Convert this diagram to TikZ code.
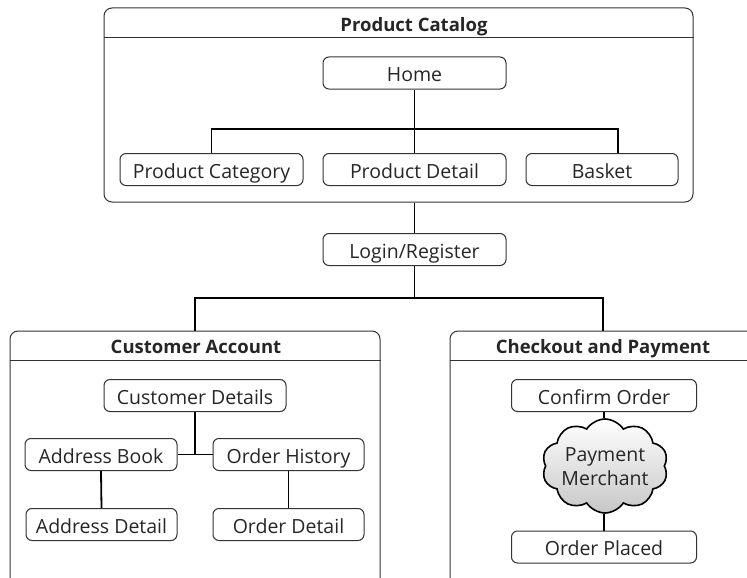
\documentclass[tikz,border=0pt]{standalone}
\usepackage{fontspec}
\setmainfont{Open Sans}
\usetikzlibrary{shapes.symbols}
\tikzset{
  frame/.style={draw=black!80, line width=1pt, rounded corners=8pt, inner sep=0pt},
  pbox/.style={draw=black!80, line width=1pt, rounded corners=6pt, inner sep=0pt, minimum height=32pt,
    font=\fontsize{19.5}{22}\selectfont, text=black!85, text height=17.6pt, text depth=0pt},
  ttl/.style={font=\bfseries\fontsize{18.5}{21}\selectfont, text=black!85, inner sep=0pt, text height=13.2pt, text depth=0pt},
  conn/.style={draw=black, line width=1.8pt},
  hdr/.style={draw=black!80, line width=1pt},
  cloudshape/.style={draw=black, line width=1.6pt, cloud, cloud puffs=10, cloud puff arc=115,
    inner sep=0pt, top color=white, bottom color=black!22},
  cloudtext/.style={font=\fontsize{19.5}{24}\selectfont, text=black!85, align=center, inner sep=0pt}
}
\begin{document}
\begin{tikzpicture}[x=1pt,y=-1pt]
\clip (0,0) rectangle (747,578);
\fill[white] (0,0) rectangle (747,578);
% frames
\node[frame, minimum width=589pt, minimum height=194pt] (pc) at (398.5,105) {};
\node[frame, minimum width=370pt, minimum height=258pt] (ca) at (195,460) {};
\node[frame, minimum width=310pt, minimum height=258pt] (cp) at (605,460) {};
\draw[hdr] ([yshift=-30pt]pc.north west) -- ([yshift=-30pt]pc.north east);
\draw[hdr] ([yshift=-30pt]ca.north west) -- ([yshift=-30pt]ca.north east);
\draw[hdr] ([yshift=-30pt]cp.north west) -- ([yshift=-30pt]cp.north east);
\node[ttl] (pct) at (414,24.5) {Product Catalog};
\node[ttl] (cat) at (196,347) {Customer Account};
\node[ttl] (cpt) at (603,347) {Checkout and Payment};
% catalog boxes
\node[pbox, minimum width=183pt] (home) at (414.5,73) {Home};
\node[pbox, minimum width=183pt] (pcat) at (211.5,169.5) {Product Category};
\node[pbox, minimum width=183pt] (pdet) at (414.5,169.5) {Product Detail};
\node[pbox, minimum width=152pt] (bask) at (602,169.5) {Basket};
\node[pbox, minimum width=183pt] (login) at (414.5,249.5) {Login/Register};
% customer account
\node[pbox, minimum width=182pt] (cdet) at (195,395.5) {Customer Details};
\node[pbox, minimum width=152pt] (abook) at (101,454.5) {Address Book};
\node[pbox, minimum width=151pt] (ohist) at (288.5,454.5) {Order History};
\node[pbox, minimum width=151pt] (adet) at (101.5,524.5) {Address Detail};
\node[pbox, minimum width=151pt] (odet) at (288.5,524.5) {Order Detail};
% checkout
\node[pbox, minimum width=185pt] (conf) at (604,395.5) {Confirm Order};
\node[cloudshape, minimum width=126pt, minimum height=94pt] (pay) at (605,466) {};
\node[cloudtext] (paytxt) at (605,467) {Payment\\Merchant};
\node[pbox, minimum width=185pt] (oplc) at (604,547) {Order Placed};
% connectors
\coordinate (j1) at (414.5,129);
\coordinate (j2) at (414.5,298);
\coordinate (j3) at (195,455);
\draw[conn] (home.south) -- (pdet.north);
\draw[conn] (pcat.north) |- (j1) -| ([xshift=16pt]bask.north);
\draw[conn] (pc.south -| login.north) -- (login.north);
\draw[conn] (login.south) -- (j2);
\draw[conn] (ca.north -| cdet.north) |- (j2) -| (603,331);
\draw[conn] (cdet.south) -- (j3);
\draw[conn] (abook.east) -- (ohist.west);
\draw[conn] (abook.south) -- (adet.north);
\draw[conn] (ohist.south) -- (odet.north);
\draw[conn] (conf.south) -- (conf.south |- pay.north);
\draw[conn] (oplc.north |- pay.south) -- (oplc.north);
\end{tikzpicture}
\end{document}
